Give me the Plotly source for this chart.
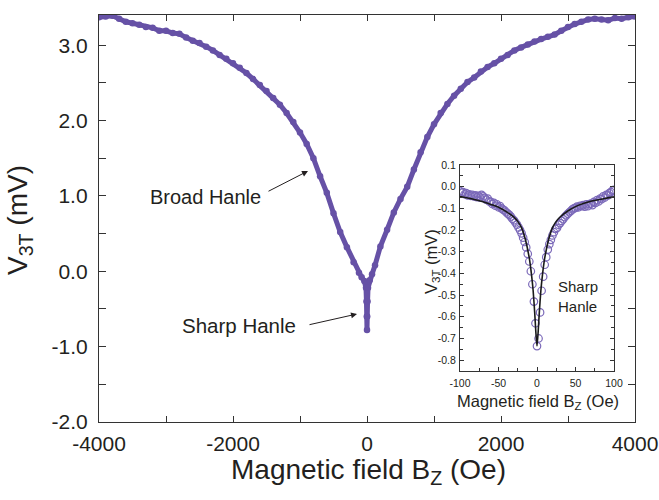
import plotly.graph_objects as go

# ---------------- data ----------------
main_B = [-4000, -3900, -3800, -3700, -3600, -3500, -3400, -3300, -3200, -3100,
          -3000, -2900, -2800, -2700, -2600, -2500, -2400, -2300, -2200, -2100,
          -2000, -1900, -1800, -1700, -1600, -1500, -1400, -1300, -1200, -1100,
          -1000, -900, -800, -700, -600, -500, -400, -300, -200, -120,
          -80, -40, -15, -8, -3, 0, 3, 8, 15, 40,
          75, 120, 200, 300, 400, 500, 600, 700, 800, 900,
          1000, 1100, 1200, 1300, 1400, 1500, 1600, 1700, 1800, 1900,
          2000, 2100, 2200, 2300, 2400, 2500, 2600, 2700, 2800, 2900,
          3000, 3100, 3200, 3300, 3400, 3500, 3600, 3700, 3800, 3900, 4000]
main_V = [3.37, 3.38, 3.39, 3.35, 3.31, 3.29, 3.27, 3.24, 3.23, 3.19,
          3.19, 3.16, 3.15, 3.10, 3.06, 3.03, 2.98, 2.93, 2.87, 2.82,
          2.76, 2.70, 2.63, 2.55, 2.47, 2.39, 2.30, 2.21, 2.10, 1.98,
          1.84, 1.69, 1.50, 1.26, 1.04, 0.77, 0.52, 0.32, 0.12, -0.02,
          -0.08, -0.13, -0.22, -0.40, -0.60, -0.78, -0.60, -0.40, -0.22, -0.12,
          -0.04, 0.08, 0.33, 0.55, 0.78, 0.96, 1.12, 1.35, 1.58, 1.78,
          1.95, 2.10, 2.22, 2.33, 2.42, 2.51, 2.57, 2.65, 2.71, 2.76,
          2.82, 2.87, 2.93, 2.97, 3.01, 3.05, 3.08, 3.11, 3.14, 3.19,
          3.24, 3.28, 3.31, 3.34, 3.35, 3.34, 3.33, 3.36, 3.35, 3.37, 3.38]

inset_B = [-100, -98, -96, -94, -92, -90, -88, -86, -84, -82, -80, -78, -76, -74, -72,
           -70, -68, -66, -64, -62, -60, -58, -56, -54, -52, -50, -48, -46, -44, -42,
           -40, -38, -36, -34, -32, -30, -28, -26, -24, -22, -20, -18, -16, -14, -12,
           -10, -8, -6, -4, -2, 0, 2, 4, 6, 8, 10, 12, 14, 16, 18,
           20, 22, 24, 26, 28, 30, 32, 34, 36, 38, 40, 42, 44, 46, 48,
           50, 52, 54, 56, 58, 60, 62, 64, 66, 68, 70, 72, 74, 76, 78,
           80, 82, 84, 86, 88, 90, 92, 94, 96, 98, 100]
inset_V = [-0.020, -0.028, -0.025, -0.035, -0.030, -0.040, -0.035, -0.042, -0.038, -0.045,
           -0.040, -0.048, -0.042, -0.050, -0.038, -0.045, -0.052, -0.060, -0.055, -0.068,
           -0.070, -0.080, -0.075, -0.088, -0.082, -0.095, -0.090, -0.100, -0.106, -0.110,
           -0.118, -0.124, -0.130, -0.138, -0.148, -0.155, -0.165, -0.175, -0.188, -0.200,
           -0.215, -0.235, -0.255, -0.280, -0.310, -0.345, -0.390, -0.450, -0.530, -0.630,
           -0.735, -0.700, -0.580, -0.480, -0.415, -0.360, -0.325, -0.290, -0.265, -0.245,
           -0.225, -0.210, -0.195, -0.190, -0.175, -0.168, -0.158, -0.150, -0.140, -0.132,
           -0.125, -0.118, -0.112, -0.105, -0.100, -0.098, -0.092, -0.095, -0.088, -0.090,
           -0.085, -0.092, -0.082, -0.090, -0.080, -0.078, -0.085, -0.070, -0.075, -0.062,
           -0.068, -0.055, -0.058, -0.045, -0.050, -0.038, -0.040, -0.030, -0.025, -0.018, -0.015]

fit_B = [-100, -90, -80, -70, -60, -50, -40, -30, -25, -20, -15, -10, -7, -5, -3, -1.5, 0,
         1.5, 3, 5, 7, 10, 15, 20, 25, 30, 40, 50, 60, 70, 80, 90, 100]
fit_V = [-0.045, -0.052, -0.060, -0.070, -0.082, -0.095, -0.115, -0.140, -0.160, -0.190,
         -0.245, -0.330, -0.410, -0.480, -0.580, -0.670, -0.735,
         -0.670, -0.580, -0.480, -0.410, -0.330, -0.245, -0.190, -0.160, -0.140, -0.112,
         -0.092, -0.078, -0.067, -0.060, -0.053, -0.047]

main_xticks = [-4000, -2000, 0, 2000, 4000]
main_yticks = [-2.0, -1.0, 0.0, 1.0, 2.0, 3.0]
inset_xticks = [-100, -50, 0, 50, 100]
inset_yticks = [0.1, 0.0, -0.1, -0.2, -0.3, -0.4, -0.5, -0.6, -0.7, -0.8]

# ---------------- figure ----------------
W, H = 659, 500
FONT = "Liberation Sans, Arial, sans-serif"
TXT = "#231f20"
PURPLE = "#6651a6"
AX = "#333333"


def px(x):
    return x / W


def py(y):
    return 1 - y / H


fig = go.Figure()
fig.add_trace(go.Scatter(x=main_B, y=main_V, mode="lines+markers",
                         line=dict(color=PURPLE, width=5),
                         marker=dict(color=PURPLE, size=6.5),
                         xaxis="x", yaxis="y", showlegend=False))
fig.add_trace(go.Scatter(x=inset_B, y=inset_V, mode="markers",
                         marker=dict(symbol="circle-open", color="#7b69b9", size=7.5,
                                     line=dict(width=1.2, color="#7b69b9")),
                         xaxis="x2", yaxis="y2", showlegend=False))
fig.add_trace(go.Scatter(x=fit_B, y=fit_V, mode="lines",
                         line=dict(color="#1a1a1a", width=1.6, shape="spline", smoothing=0.6),
                         xaxis="x2", yaxis="y2", showlegend=False))

axis_common = dict(showline=True, linecolor=AX, linewidth=1.3, mirror="ticks",
                   ticks="inside", tickcolor=AX, showgrid=False, zeroline=False,
                   automargin=False)

fig.update_layout(
    width=W, height=H,
    margin=dict(l=0, r=0, t=0, b=0, pad=0),
    paper_bgcolor="white", plot_bgcolor="white",
    font=dict(family=FONT, color=TXT),
    xaxis=dict(domain=[px(99), px(635)], range=[-4000, 4000], anchor="y",
               tickvals=main_xticks, ticktext=[str(v) for v in main_xticks],
               ticklen=6, tickwidth=1.2, tickfont=dict(size=21, color=TXT),
               ticklabelstandoff=3,
               minor=dict(dtick=1000, ticks="inside", ticklen=6, tickcolor=AX, tickwidth=1.2),
               **axis_common),
    yaxis=dict(domain=[py(422), py(15)], range=[-2.0, 3.4], anchor="x",
               tickvals=main_yticks, ticktext=["%.1f" % v for v in main_yticks],
               ticklen=7, tickwidth=1.2, tickfont=dict(size=21, color=TXT),
               ticklabelstandoff=6,
               minor=dict(dtick=0.5, ticks="inside", ticklen=7, tickcolor=AX, tickwidth=1.2),
               **axis_common),
    xaxis2=dict(domain=[px(460), px(614)], range=[-100, 100], anchor="y2",
                tickvals=inset_xticks, ticktext=[str(v) for v in inset_xticks],
                ticklen=4, tickwidth=1, tickfont=dict(size=10.5, color=TXT),
                ticklabelstandoff=2,
                minor=dict(dtick=25, ticks="inside", ticklen=3, tickcolor=AX, tickwidth=1),
                **axis_common),
    yaxis2=dict(domain=[py(371), py(165)], range=[-0.85, 0.1], anchor="x2",
                tickvals=inset_yticks, ticktext=["%.1f" % v for v in inset_yticks],
                ticklen=4, tickwidth=1, tickfont=dict(size=10.5, color=TXT),
                ticklabelstandoff=1,
                minor=dict(dtick=0.05, ticks="inside", ticklen=2.5, tickcolor=AX, tickwidth=1),
                **axis_common),
)

ann = []
# axis titles
ann.append(dict(text="Magnetic field B<sub>Z</sub> (Oe)", x=px(368), y=py(471),
                xref="paper", yref="paper", showarrow=False,
                font=dict(size=28, color=TXT), xanchor="center", yanchor="middle"))
ann.append(dict(text="V<sub>3T</sub> (mV)", x=px(20), y=py(220),
                xref="paper", yref="paper", showarrow=False, textangle=-90,
                font=dict(size=28, color=TXT), xanchor="center", yanchor="middle"))
ann.append(dict(text="Magnetic field B<sub>Z</sub> (Oe)", x=px(538), y=py(402),
                xref="paper", yref="paper", showarrow=False,
                font=dict(size=16.5, color=TXT), xanchor="center", yanchor="middle"))
ann.append(dict(text="V<sub>3T</sub> (mV)", x=px(432), y=py(262),
                xref="paper", yref="paper", showarrow=False, textangle=-90,
                font=dict(size=16.5, color=TXT), xanchor="center", yanchor="middle"))
# inset label
ann.append(dict(text="Sharp<br>Hanle", x=px(556), y=py(296),
                xref="paper", yref="paper", showarrow=False, align="left",
                font=dict(size=15, color=TXT), xanchor="left", yanchor="middle"))
# main labels with arrows
ann.append(dict(text="Broad Hanle", x=px(205), y=py(197),
                xref="paper", yref="paper", showarrow=False,
                font=dict(size=20, color=TXT), xanchor="center", yanchor="middle"))
ann.append(dict(text="", x=px(308), y=py(171), ax=-41, ay=21,
                xref="paper", yref="paper", axref="pixel", ayref="pixel",
                showarrow=True, arrowhead=2, arrowsize=1.2, arrowwidth=1, arrowcolor=TXT))
ann.append(dict(text="Sharp Hanle", x=px(239), y=py(325),
                xref="paper", yref="paper", showarrow=False,
                font=dict(size=20.5, color=TXT), xanchor="center", yanchor="middle"))
ann.append(dict(text="", x=px(357), y=py(314), ax=-49, ay=11,
                xref="paper", yref="paper", axref="pixel", ayref="pixel",
                showarrow=True, arrowhead=2, arrowsize=1.2, arrowwidth=1, arrowcolor=TXT))
fig.update_layout(annotations=ann)

fig.write_html("out.html", config={"displayModeBar": False},
               post_script="document.body.style.margin='0';document.body.style.overflow='hidden';")
